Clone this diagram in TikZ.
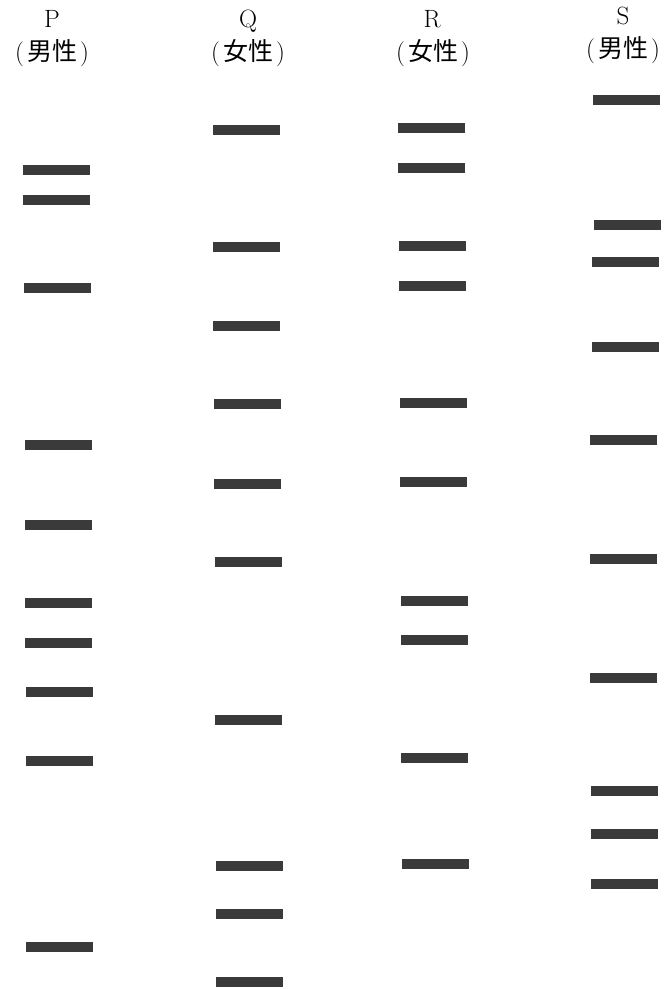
\documentclass[tikz,border=0pt]{standalone}
\usepackage{fontspec}
\newfontfamily\cjk{Noto Sans CJK JP}
\usetikzlibrary{positioning}
\definecolor{BandGray}{HTML}{3A3A3A}

\tikzset{
  band/.style={fill=BandGray,draw=none,minimum width=67pt,minimum height=10pt,inner sep=0pt},
  lane/.style={font=\fontsize{25}{28}\selectfont,inner sep=0pt,anchor=base},
  sex/.style={font=\fontsize{25}{28}\selectfont,inner sep=0pt,anchor=base}
}
\newcommand{\sexlabel}[1]{(\hspace{3pt}{\cjk #1}\hspace{3pt})}

\begin{document}
\begin{tikzpicture}[x=1pt,y=-1pt]
\useasboundingbox (0,0) rectangle (665,989);

% lane headings
\node[lane] (P) at (52,27) {P};
\node[lane] (Q) at (248,27) {Q};
\node[lane] (R) at (432,27) {R};
\node[lane] (S) at (623,24) {S};
\node[sex] (Psex) at (52,60) {\sexlabel{男性}};
\node[sex] (Qsex) at (248,60) {\sexlabel{女性}};
\node[sex] (Rsex) at (433,60) {\sexlabel{女性}};
\node[sex] (Ssex) at (623,57) {\sexlabel{男性}};

% bands, lane P
\foreach \x/\y [count=\i] in {56/170,56/200,57/288,58/445,58/525,58/603,58/643,59/692,59/761,59/947}
  \node[band] (P\i) at (\x,\y) {};
% lane Q
\foreach \x/\y [count=\i] in {246/130,246/247,246/326,247/404,247/484,248/562,248/720,249/866,249/914,249/982}
  \node[band] (Q\i) at (\x,\y) {};
% lane R
\foreach \x/\y [count=\i] in {431/128,431/168,432/246,432/286,433/403,433/482,434/601,434/640,434/758,435/864}
  \node[band] (R\i) at (\x,\y) {};
% lane S
\foreach \x/\y [count=\i] in {626/100,627/225,625/262,625/347,623/440,623/559,623/678,624/791,624/834,624/884}
  \node[band] (S\i) at (\x,\y) {};
\end{tikzpicture}
\end{document}
